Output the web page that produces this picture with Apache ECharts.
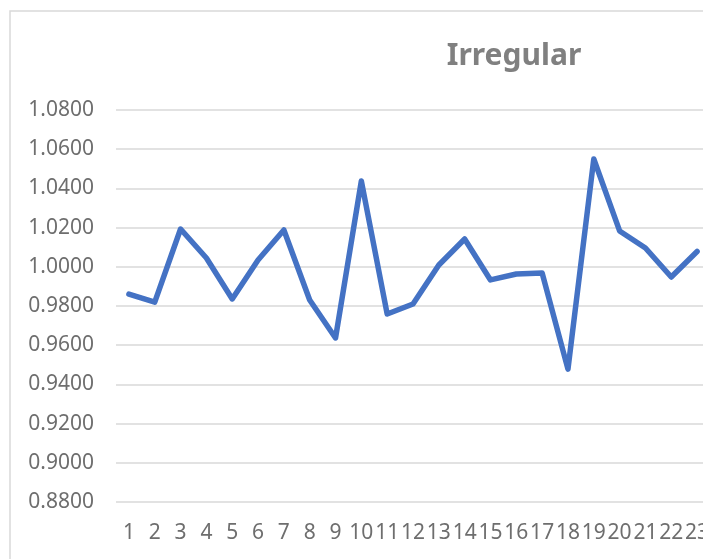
<!DOCTYPE html>
<html>
<head>
<meta charset="utf-8">
<script src="https://cdn.jsdelivr.net/npm/echarts@6/dist/echarts.min.js"></script>
<style>
html,body{margin:0;padding:0;overflow:hidden;background:#fff;}
#chart{width:720px;height:559px;}
</style>
</head>
<body>
<div id="chart"></div>
<script>
const titleText = 'Irregular';
const categories = ['1','2','3','4','5','6','7','8','9','10','11','12','13','14','15','16','17','18','19','20','21','22','23'];
const values = [0.9861,0.9820,1.0193,1.0045,0.9836,1.0035,1.0188,0.9831,0.9637,1.0438,0.9759,0.9810,1.0009,1.0142,0.9933,0.9963,0.9968,0.9478,1.0550,1.0183,1.0096,0.9948,1.0078];
const yMin = 0.88, yMax = 1.08, yStep = 0.02;

const chart = echarts.init(document.getElementById('chart'), null, {renderer:'canvas'});
chart.setOption({
  animation:false,
  backgroundColor:'#ffffff',
  title:{
    text:titleText,
    left:509, top:36, textAlign:'center',
    textStyle:{fontFamily:'Noto Sans', fontWeight:'bold', fontSize:30, color:'#808080'}
  },
  graphic:[{
    type:'rect', z:-10, silent:true,
    shape:{x:10, y:11, width:900, height:700},
    style:{fill:'none', stroke:'#d9d9d9', lineWidth:1.5}
  }],
  grid:{left:116, right:10, top:110, bottom:57, containLabel:false},
  xAxis:{
    type:'category', data:categories, boundaryGap:true,
    axisLine:{show:false}, axisTick:{show:false},
    axisLabel:{interval:0, margin:21, color:'#6e6e6e', fontFamily:'Noto Sans', fontSize:21}
  },
  yAxis:{
    type:'value', min:yMin, max:yMax, interval:yStep,
    axisLine:{show:false}, axisTick:{show:false},
    axisLabel:{margin:22, color:'#6e6e6e', fontFamily:'Noto Sans', fontSize:21, formatter:v=>v.toFixed(4)},
    splitLine:{show:true, lineStyle:{color:'#d9d9d9', width:1.5}}
  },
  series:[{
    type:'line', data:values, showSymbol:false, symbol:'none',
    lineStyle:{color:'#4472c4', width:5.5, join:'round', cap:'round'},
    itemStyle:{color:'#4472c4'}
  }]
});
</script>
</body>
</html>
